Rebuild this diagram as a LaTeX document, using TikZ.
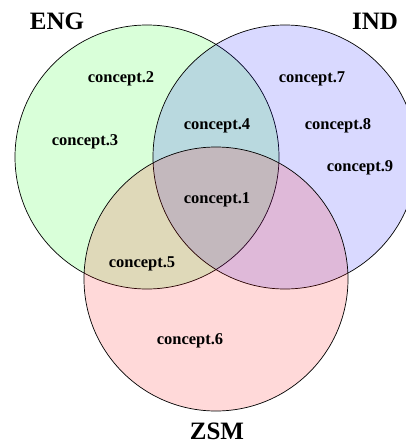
\documentclass[tikz,border=0pt]{standalone}
\usepackage{fontspec}
\setmainfont{Liberation Serif}
\begin{document}
\begin{tikzpicture}[
  x=1pt, y=-1pt,
  setc/.style={circle, draw, line width=0.7pt, minimum size=264pt, inner sep=0pt, fill opacity=0.15, draw opacity=1},
  setname/.style={font=\fontsize{25}{28}\selectfont\bfseries, inner sep=1pt},
  concept/.style={font=\fontsize{16.5}{18}\selectfont\bfseries}
]
  \useasboundingbox (0,0) rectangle (406,444);
  \node[setc, fill=green] (eng) at (147,157) {};
  \node[setc, fill=blue] (ind) at (285,157) {};
  \node[setc, fill=red] (zsm) at (216,279) {};
  \node[setname] (engl) at (57,21) {ENG};
  \node[setname] (indl) at (375,21) {IND};
  \node[setname] (zsml) at (217,431) {ZSM};
  \node[concept] (c1) at (217,200) {concept.1};
  \node[concept] (c2) at (121,79) {concept.2};
  \node[concept] (c3) at (85,142) {concept.3};
  \node[concept] (c4) at (217,126) {concept.4};
  \node[concept] (c5) at (142,264) {concept.5};
  \node[concept] (c6) at (190,341) {concept.6};
  \node[concept] (c7) at (312,79) {concept.7};
  \node[concept] (c8) at (338,126) {concept.8};
  \node[concept] (c9) at (360,168) {concept.9};
\end{tikzpicture}
\end{document}
